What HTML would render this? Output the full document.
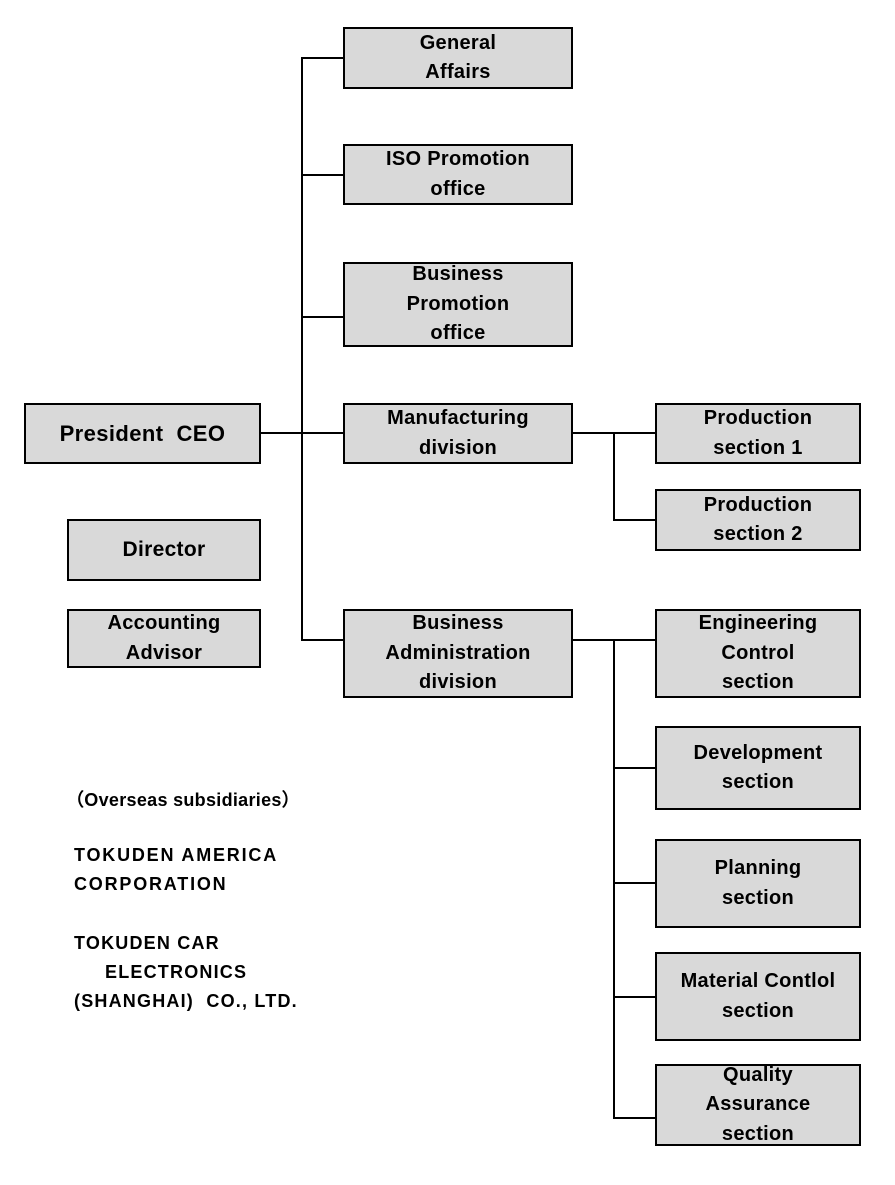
<!DOCTYPE html>
<html><head><meta charset="utf-8"><style>
body{margin:0;width:895px;height:1185px;background:#fff;position:relative;font-family:"Liberation Sans",Arial,sans-serif;font-weight:bold;}
.b{position:absolute;box-sizing:border-box;border:2px solid #000;background:#d9d9d9;display:flex;align-items:center;justify-content:center;text-align:center;font-size:20px;line-height:29.5px;letter-spacing:0.3px;}
.h{position:absolute;height:2px;background:#000;}
.v{position:absolute;width:2px;background:#000;}
.t{position:absolute;font-size:18px;line-height:29px;letter-spacing:1.8px;white-space:pre;}
</style></head><body>
<div class="v" style="left:301px;top:57px;height:584px"></div>
<div class="h" style="left:301px;top:57px;width:44px"></div>
<div class="h" style="left:301px;top:174px;width:44px"></div>
<div class="h" style="left:301px;top:316px;width:44px"></div>
<div class="h" style="left:259px;top:432px;width:86px"></div>
<div class="h" style="left:301px;top:639px;width:44px"></div>
<div class="h" style="left:571px;top:432px;width:86px"></div>
<div class="v" style="left:613px;top:432px;height:89px"></div>
<div class="h" style="left:613px;top:519px;width:44px"></div>
<div class="h" style="left:571px;top:639px;width:86px"></div>
<div class="v" style="left:613px;top:639px;height:480px"></div>
<div class="h" style="left:613px;top:767px;width:44px"></div>
<div class="h" style="left:613px;top:882px;width:44px"></div>
<div class="h" style="left:613px;top:996px;width:44px"></div>
<div class="h" style="left:613px;top:1117px;width:44px"></div>

<div class="b" style="left:343px;top:27px;width:230px;height:62px">General<br>Affairs</div>
<div class="b" style="left:343px;top:144px;width:230px;height:61px">ISO Promotion<br>office</div>
<div class="b" style="left:343px;top:262px;width:230px;height:85px">Business<br>Promotion<br>office</div>
<div class="b" style="left:343px;top:403px;width:230px;height:61px">Manufacturing<br>division</div>
<div class="b" style="left:343px;top:609px;width:230px;height:89px">Business<br>Administration<br>division</div>
<div class="b" style="left:24px;top:403px;width:237px;height:61px;font-size:22px;letter-spacing:0.4px">President&nbsp; CEO</div>
<div class="b" style="left:67px;top:519px;width:194px;height:62px;font-size:21px">Director</div>
<div class="b" style="left:67px;top:609px;width:194px;height:59px">Accounting<br>Advisor</div>
<div class="b" style="left:655px;top:403px;width:206px;height:61px">Production<br>section 1</div>
<div class="b" style="left:655px;top:489px;width:206px;height:62px">Production<br>section 2</div>
<div class="b" style="left:655px;top:609px;width:206px;height:89px">Engineering<br>Control<br>section</div>
<div class="b" style="left:655px;top:726px;width:206px;height:84px">Development<br>section</div>
<div class="b" style="left:655px;top:839px;width:206px;height:89px">Planning<br>section</div>
<div class="b" style="left:655px;top:952px;width:206px;height:89px">Material Contlol<br>section</div>
<div class="b" style="left:655px;top:1064px;width:206px;height:82px">Quality<br>Assurance<br>section</div>

<div class="t" style="left:66px;top:786px;letter-spacing:0.3px">（Overseas subsidiaries）</div>
<div class="t" style="left:74px;top:841px">TOKUDEN AMERICA
CORPORATION</div>
<div class="t" style="left:74px;top:929px;letter-spacing:1.2px">TOKUDEN CAR
     ELECTRONICS
(SHANGHAI)  CO., LTD.</div>
</body></html>
